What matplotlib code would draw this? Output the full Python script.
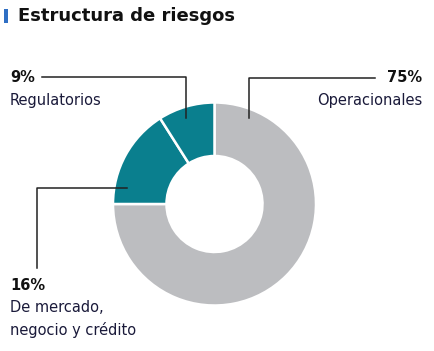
import matplotlib
matplotlib.use("Agg")
import matplotlib.pyplot as plt
from matplotlib.patches import Rectangle

title = "Estructura de riesgos"
categories = ["Operacionales", "De mercado,\nnegocio y crédito", "Regulatorios"]
values = [75, 16, 9]
colors = ["#bcbdc0", "#0a7f8e", "#0a7f8e"]

W, H = 434, 351
fig = plt.figure(figsize=(W / 100, H / 100), dpi=100)
ax = fig.add_axes([0, 0, 1, 1])

font = ["Liberation Sans Narrow", "DejaVu Sans"]

# donut
cx, cy, r = 214.5, H - 204, 101.5
ax.pie(values, colors=colors, startangle=90, counterclock=False,
       center=(cx, cy), radius=r, frame=True,
       wedgeprops=dict(width=r - 48, edgecolor="white", linewidth=1.8))
ax.set_xlim(0, W)
ax.set_ylim(0, H)
ax.set_aspect("equal")
ax.axis("off")

# title
ax.add_patch(Rectangle((4, H - 23), 4, 14, color="#2f6fc4", lw=0))
ax.text(18, H - 16, title, fontsize=13, fontweight="bold", family=font,
        va="center", ha="left", color="#111111")

lc = "#222222"
lw = 1.1
# Regulatorios
ax.plot([42, 185.5, 185.5], [H - 77, H - 77, H - 118], color=lc, lw=lw)
ax.text(10, H - 77, f"{values[2]}%", fontsize=10.5, fontweight="bold", family=font,
        va="center", ha="left", color="#111111")
ax.text(10, H - 100, categories[2], fontsize=10.5, family=font,
        va="center", ha="left", color="#1a1a3a")
# Operacionales
ax.plot([375, 248.5, 248.5], [H - 78, H - 78, H - 118], color=lc, lw=lw)
ax.text(422, H - 78, f"{values[0]}%", fontsize=10.5, fontweight="bold", family=font,
        va="center", ha="right", color="#111111")
ax.text(422, H - 101, categories[0], fontsize=10.5, family=font,
        va="center", ha="right", color="#1a1a3a")
# De mercado
ax.plot([127, 37, 37], [H - 188, H - 188, H - 268], color=lc, lw=lw)
ax.text(10, H - 285, f"{values[1]}%", fontsize=10.5, fontweight="bold", family=font,
        va="center", ha="left", color="#111111")
ax.text(10, H - 319, categories[1], fontsize=10.5, family=font,
        va="center", ha="left", color="#1a1a3a", linespacing=1.55)

fig.savefig("out.png", dpi=100)
